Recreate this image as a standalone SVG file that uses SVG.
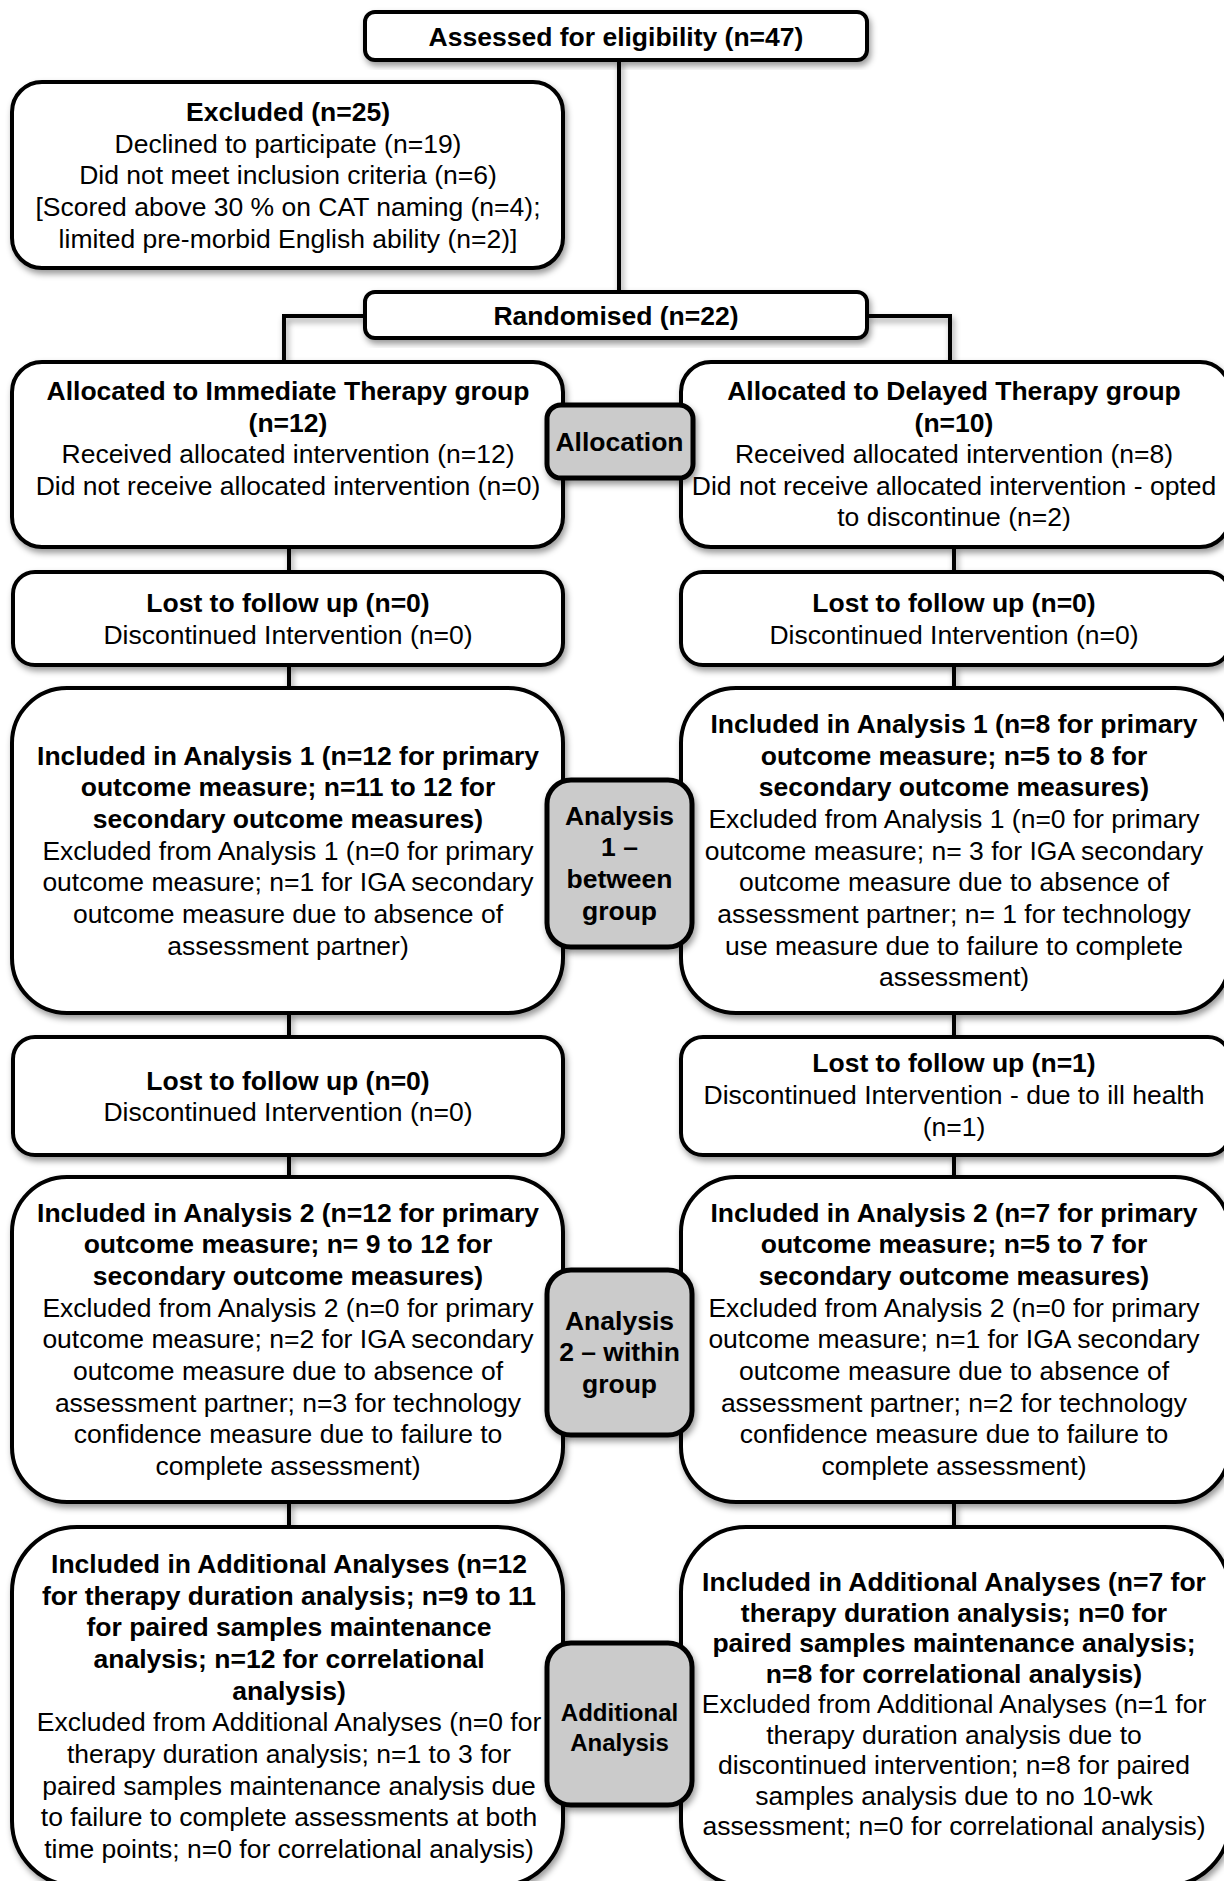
<svg xmlns="http://www.w3.org/2000/svg" width="1224" height="1881" viewBox="0 0 1224 1881">
  <defs>
    <filter id="sh" x="-10%" y="-10%" width="130%" height="130%">
      <feDropShadow dx="2" dy="4" stdDeviation="3" flood-color="#000" flood-opacity="0.4"/>
    </filter>
    <!-- connector shadow: fixed region, since straight lines have a zero-size bounding box -->
    <filter id="shw" filterUnits="userSpaceOnUse" x="0" y="0" width="1224" height="1881">
      <feDropShadow dx="2" dy="4" stdDeviation="3" flood-color="#000" flood-opacity="0.4"/>
    </filter>
    <style>
      .box { fill: #fff; stroke: #000; stroke-width: 4; filter: url(#sh); }
      .tag { fill: #cbcbcb; stroke: #000; stroke-width: 5; filter: url(#sh); }
      .wire { fill: none; stroke: #000; stroke-width: 4; filter: url(#shw); }
      text { font-family: "Liberation Sans", Arial, Helvetica, sans-serif; font-size: 26.5px; text-anchor: middle; fill: #000; }
      .b { font-weight: bold; }
      .sm { font-size: 24px; }
    </style>
  </defs>
  <rect width="1224" height="1881" fill="#fff"/>

  <!-- connectors -->
  <g id="connectors">
    <path class="wire" d="M619 60 V292"/>
    <path class="wire" d="M365 316 H284 V362 M867 316 H950 V362"/>
    <path class="wire" d="M289 547 V572 M289 665 V688 M289 1013 V1037 M289 1155 V1177 M289 1502 V1527"/>
    <path class="wire" d="M954 547 V572 M954 665 V688 M954 1013 V1037 M954 1155 V1177 M954 1502 V1527"/>
  </g>

  <!-- enrolment -->
  <g id="assessed">
    <rect class="box" x="365" y="12" width="502" height="48" rx="10"/>
    <text class="b" x="616" y="46">Assessed for eligibility (n=47)</text>
  </g>
  <g id="excluded">
    <rect class="box" x="12" y="82" width="551" height="186" rx="30"/>
    <text class="b" x="288" y="121">Excluded (n=25)</text>
    <text x="288" y="152.7">Declined to participate (n=19)</text>
    <text x="288" y="184.4">Did not meet inclusion criteria (n=6)</text>
    <text x="288" y="216.1">[Scored above 30 % on CAT naming (n=4);</text>
    <text x="288" y="247.8">limited pre-morbid English ability (n=2)]</text>
  </g>
  <g id="randomised">
    <rect class="box" x="365" y="292" width="502" height="46" rx="10"/>
    <text class="b" x="616" y="324.5">Randomised (n=22)</text>
  </g>

  <!-- allocation -->
  <g id="alloc-immediate">
    <rect class="box" x="12" y="362" width="551" height="185" rx="30"/>
    <text class="b" x="288" y="400">Allocated to Immediate Therapy group</text>
    <text class="b" x="288" y="431.5">(n=12)</text>
    <text x="288" y="463">Received allocated intervention (n=12)</text>
    <text x="288" y="494.5">Did not receive allocated intervention (n=0)</text>
  </g>
  <g id="alloc-delayed">
    <rect class="box" x="681" y="362" width="549" height="185" rx="30"/>
    <text class="b" x="954" y="400">Allocated to Delayed Therapy group</text>
    <text class="b" x="954" y="431.5">(n=10)</text>
    <text x="954" y="463">Received allocated intervention (n=8)</text>
    <text x="954" y="494.5">Did not receive allocated intervention - opted</text>
    <text x="954" y="526">to discontinue (n=2)</text>
  </g>

  <!-- first follow-up -->
  <g id="lost1-immediate">
    <rect class="box" x="13" y="572" width="550" height="93" rx="22"/>
    <text class="b" x="288" y="612">Lost to follow up (n=0)</text>
    <text x="288" y="644">Discontinued Intervention (n=0)</text>
  </g>
  <g id="lost1-delayed">
    <rect class="box" x="681" y="572" width="549" height="93" rx="22"/>
    <text class="b" x="954" y="612">Lost to follow up (n=0)</text>
    <text x="954" y="644">Discontinued Intervention (n=0)</text>
  </g>

  <!-- analysis 1 -->
  <g id="an1-immediate">
    <rect class="box" x="12" y="688" width="551" height="325" rx="55"/>
    <text class="b" x="288" y="764.7">Included in Analysis 1 (n=12 for primary</text>
    <text class="b" x="288" y="796.3">outcome measure; n=11 to 12 for</text>
    <text class="b" x="288" y="828">secondary outcome measures)</text>
    <text x="288" y="859.7">Excluded from Analysis 1 (n=0 for primary</text>
    <text x="288" y="891.3">outcome measure; n=1 for IGA secondary</text>
    <text x="288" y="923">outcome measure due to absence of</text>
    <text x="288" y="954.7">assessment partner)</text>
  </g>
  <g id="an1-delayed">
    <rect class="box" x="681" y="688" width="549" height="325" rx="55"/>
    <text class="b" x="954" y="733">Included in Analysis 1 (n=8 for primary</text>
    <text class="b" x="954" y="764.7">outcome measure; n=5 to 8 for</text>
    <text class="b" x="954" y="796.3">secondary outcome measures)</text>
    <text x="954" y="828">Excluded from Analysis 1 (n=0 for primary</text>
    <text x="954" y="859.7">outcome measure; n= 3 for IGA secondary</text>
    <text x="954" y="891.3">outcome measure due to absence of</text>
    <text x="954" y="923">assessment partner; n= 1 for technology</text>
    <text x="954" y="954.7">use measure due to failure to complete</text>
    <text x="954" y="986.3">assessment)</text>
  </g>

  <!-- second follow-up -->
  <g id="lost2-immediate">
    <rect class="box" x="13" y="1037" width="550" height="118" rx="22"/>
    <text class="b" x="288" y="1089.7">Lost to follow up (n=0)</text>
    <text x="288" y="1121.3">Discontinued Intervention (n=0)</text>
  </g>
  <g id="lost2-delayed">
    <rect class="box" x="681" y="1037" width="549" height="118" rx="22"/>
    <text class="b" x="954" y="1072">Lost to follow up (n=1)</text>
    <text x="954" y="1104">Discontinued Intervention - due to ill health</text>
    <text x="954" y="1136">(n=1)</text>
  </g>

  <!-- analysis 2 -->
  <g id="an2-immediate">
    <rect class="box" x="12" y="1177" width="551" height="325" rx="55"/>
    <text class="b" x="288" y="1221.5">Included in Analysis 2 (n=12 for primary</text>
    <text class="b" x="288" y="1253.2">outcome measure; n= 9 to 12 for</text>
    <text class="b" x="288" y="1284.9">secondary outcome measures)</text>
    <text x="288" y="1316.6">Excluded from Analysis 2 (n=0 for primary</text>
    <text x="288" y="1348.3">outcome measure; n=2 for IGA secondary</text>
    <text x="288" y="1380">outcome measure due to absence of</text>
    <text x="288" y="1411.7">assessment partner; n=3 for technology</text>
    <text x="288" y="1443.4">confidence measure due to failure to</text>
    <text x="288" y="1475.1">complete assessment)</text>
  </g>
  <g id="an2-delayed">
    <rect class="box" x="681" y="1177" width="549" height="325" rx="55"/>
    <text class="b" x="954" y="1221.5">Included in Analysis 2 (n=7 for primary</text>
    <text class="b" x="954" y="1253.2">outcome measure; n=5 to 7 for</text>
    <text class="b" x="954" y="1284.9">secondary outcome measures)</text>
    <text x="954" y="1316.6">Excluded from Analysis 2 (n=0 for primary</text>
    <text x="954" y="1348.3">outcome measure; n=1 for IGA secondary</text>
    <text x="954" y="1380">outcome measure due to absence of</text>
    <text x="954" y="1411.7">assessment partner; n=2 for technology</text>
    <text x="954" y="1443.4">confidence measure due to failure to</text>
    <text x="954" y="1475.1">complete assessment)</text>
  </g>

  <!-- additional analyses -->
  <g id="add-immediate">
    <rect class="box" x="12" y="1527" width="551" height="359" rx="65"/>
    <text class="b" x="289" y="1573">Included in Additional Analyses (n=12</text>
    <text class="b" x="289" y="1604.7">for therapy duration analysis; n=9 to 11</text>
    <text class="b" x="289" y="1636.3">for paired samples maintenance</text>
    <text class="b" x="289" y="1668">analysis; n=12 for correlational</text>
    <text class="b" x="289" y="1699.7">analysis)</text>
    <text x="289" y="1731.3">Excluded from Additional Analyses (n=0 for</text>
    <text x="289" y="1763">therapy duration analysis; n=1 to 3 for</text>
    <text x="289" y="1794.7">paired samples maintenance analysis due</text>
    <text x="289" y="1826.3">to failure to complete assessments at both</text>
    <text x="289" y="1858">time points; n=0 for correlational analysis)</text>
  </g>
  <g id="add-delayed">
    <rect class="box" x="681" y="1527" width="549" height="359" rx="65"/>
    <text class="b" x="954" y="1591">Included in Additional Analyses (n=7 for</text>
    <text class="b" x="954" y="1621.5">therapy duration analysis; n=0 for</text>
    <text class="b" x="954" y="1652">paired samples maintenance analysis;</text>
    <text class="b" x="954" y="1682.5">n=8 for correlational analysis)</text>
    <text x="954" y="1713">Excluded from Additional Analyses (n=1 for</text>
    <text x="954" y="1743.5">therapy duration analysis due to</text>
    <text x="954" y="1774">discontinued intervention; n=8 for paired</text>
    <text x="954" y="1804.5">samples analysis due to no 10-wk</text>
    <text x="954" y="1835">assessment; n=0 for correlational analysis)</text>
  </g>

  <!-- stage labels -->
  <g id="stage-allocation">
    <rect class="tag" x="547" y="405" width="146" height="73" rx="14"/>
    <text class="b" x="619.5" y="451">Allocation</text>
  </g>
  <g id="stage-analysis1">
    <rect class="tag" x="547" y="780" width="145" height="167" rx="24"/>
    <text class="b" x="619.5" y="824.7">Analysis</text>
    <text class="b" x="619.5" y="856.3">1 –</text>
    <text class="b" x="619.5" y="888">between</text>
    <text class="b" x="619.5" y="919.7">group</text>
  </g>
  <g id="stage-analysis2">
    <rect class="tag" x="547" y="1270" width="145" height="165" rx="24"/>
    <text class="b" x="619.5" y="1329.7">Analysis</text>
    <text class="b" x="619.5" y="1361.3">2 – within</text>
    <text class="b" x="619.5" y="1393">group</text>
  </g>
  <g id="stage-additional">
    <rect class="tag" x="547" y="1643" width="145" height="162" rx="24"/>
    <text class="b sm" x="619.5" y="1721">Additional</text>
    <text class="b sm" x="619.5" y="1751">Analysis</text>
  </g>
</svg>
